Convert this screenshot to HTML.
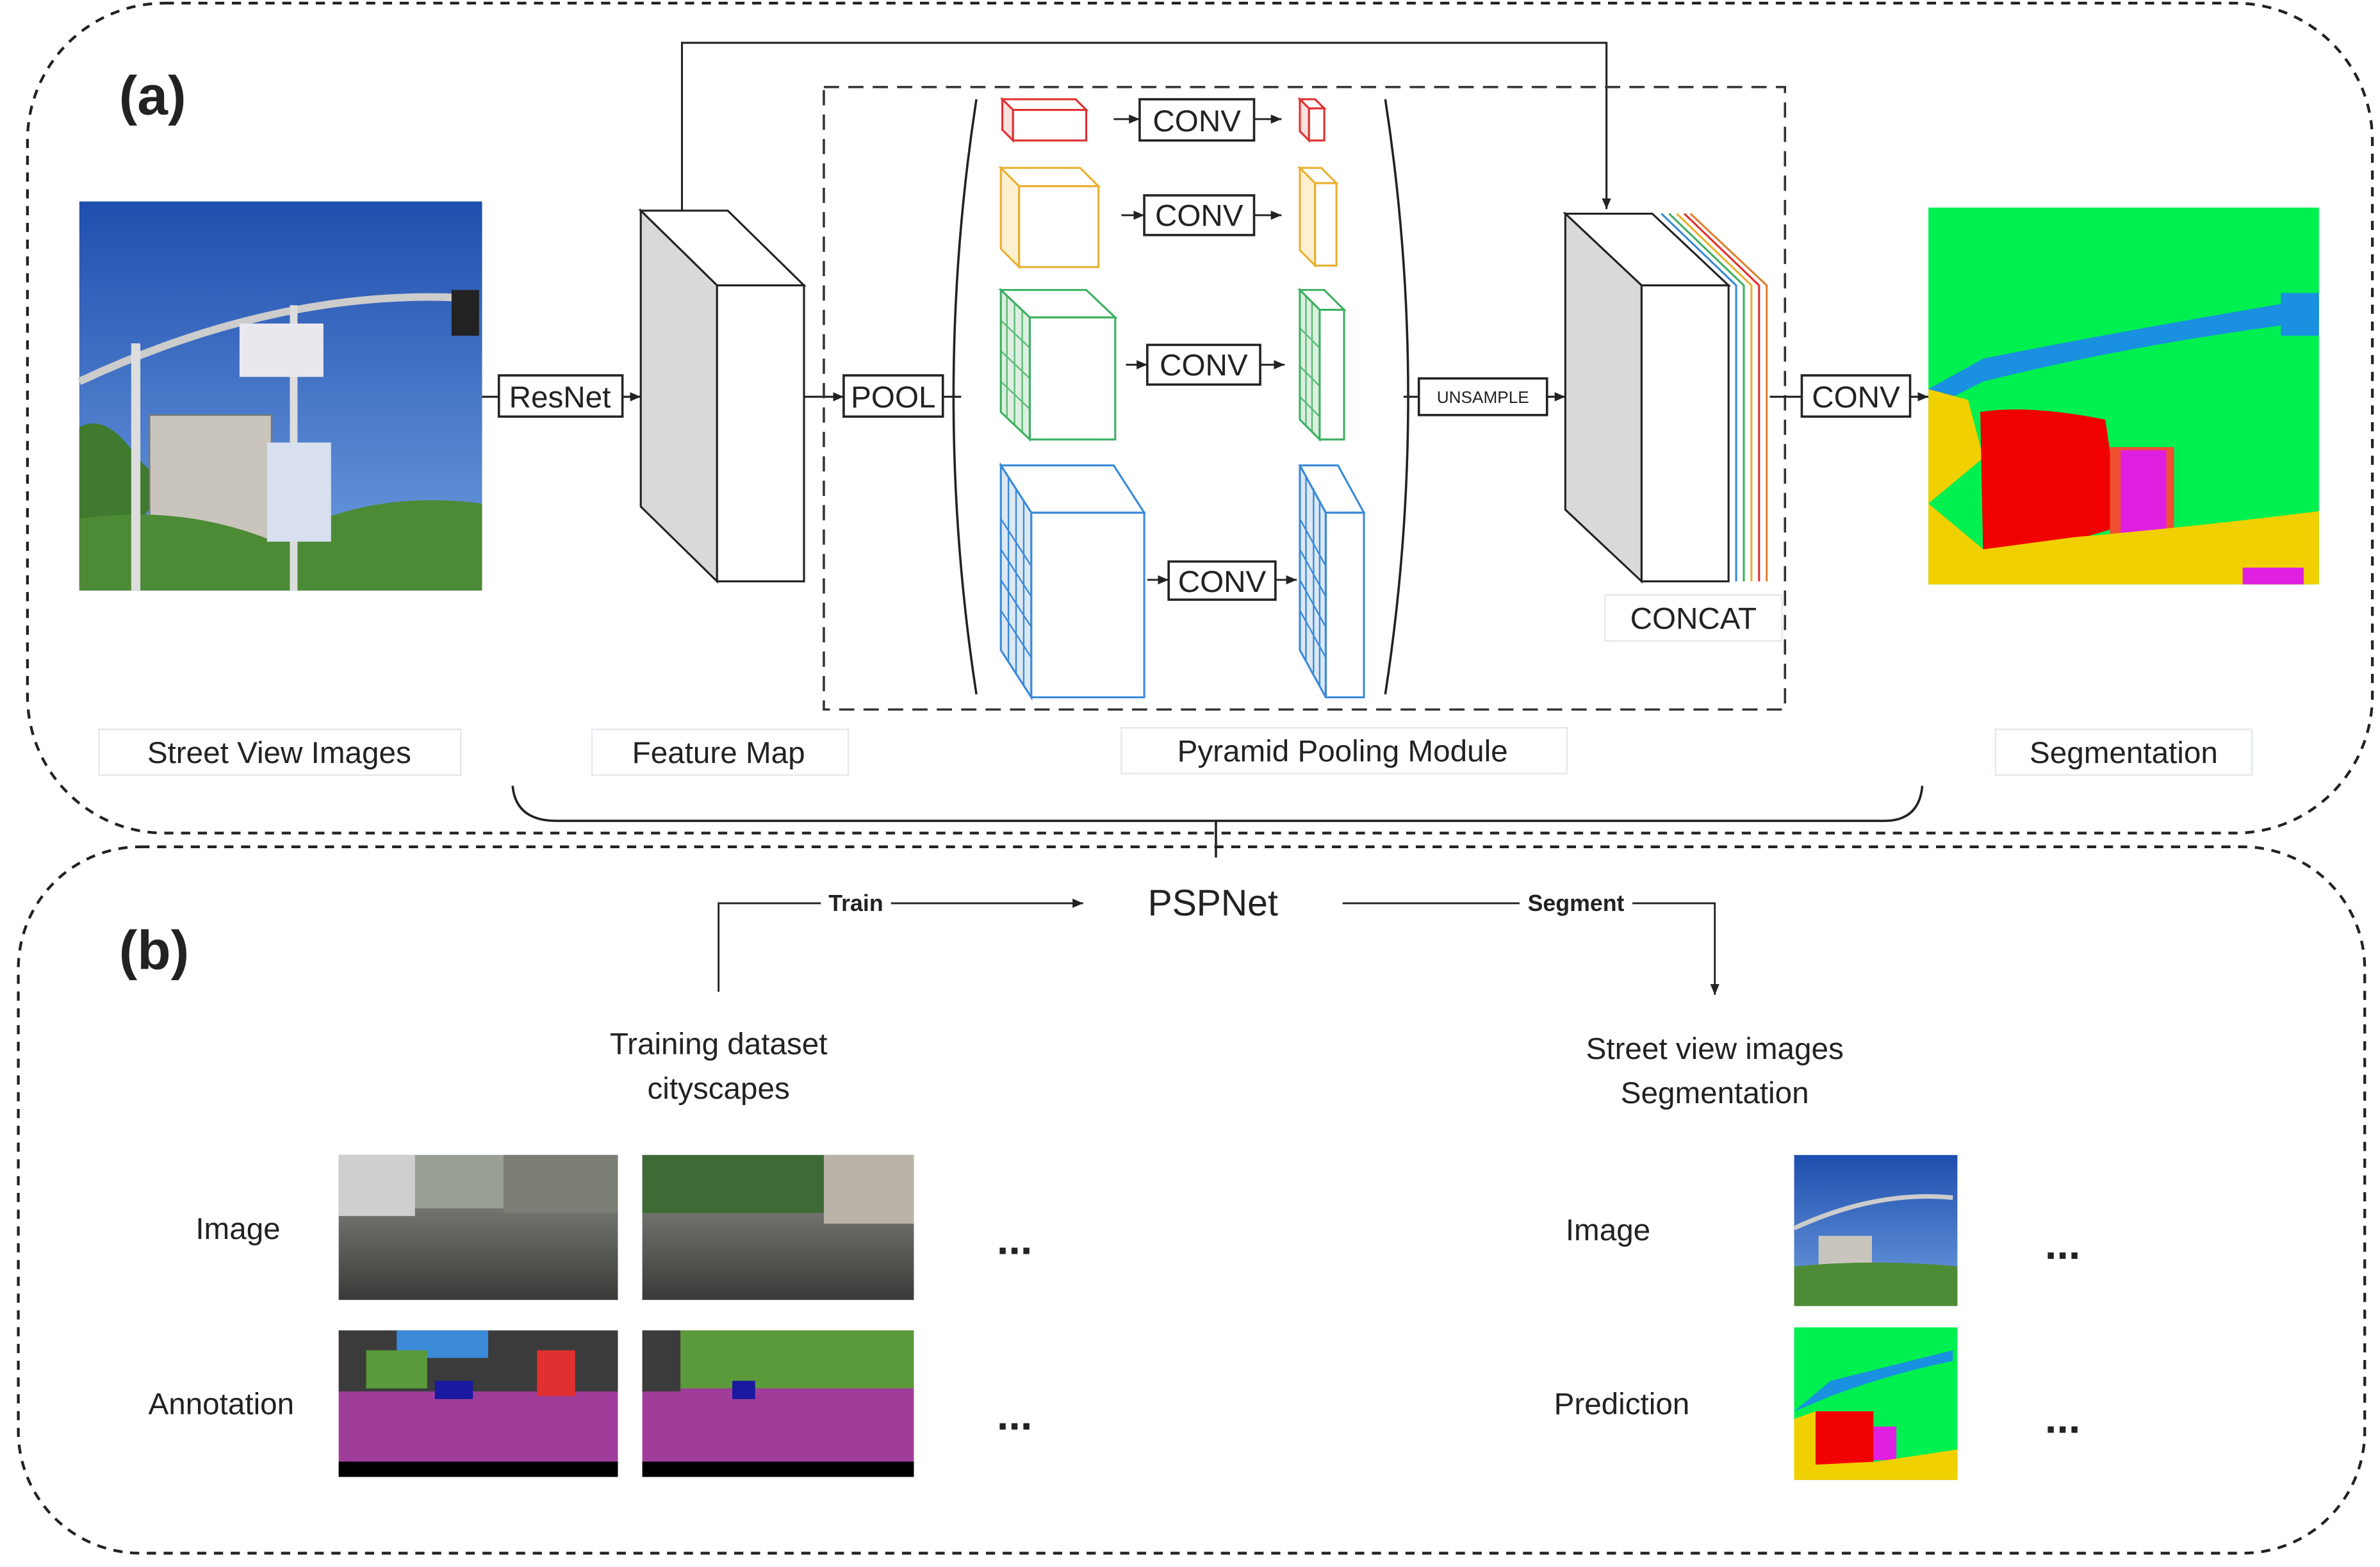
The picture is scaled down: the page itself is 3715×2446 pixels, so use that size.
<!DOCTYPE html>
<html><head><meta charset="utf-8"><style>
html,body{margin:0;padding:0;background:#fff;}
svg{display:block;}
text{font-family:"Liberation Sans",sans-serif;fill:#222;}
</style></head><body>
<svg width="3715" height="2446" viewBox="0 0 1560 1027" xmlns="http://www.w3.org/2000/svg">
<defs>
<marker id="ar" markerWidth="8" markerHeight="8" refX="7" refY="4" orient="auto" markerUnits="userSpaceOnUse"><path d="M0,1 L7,4 L0,7 z" fill="#222"/></marker>
<linearGradient id="sky" x1="0" y1="0" x2="0" y2="1"><stop offset="0" stop-color="#1f4fae"/><stop offset="1" stop-color="#6f9fe0"/></linearGradient>
<linearGradient id="road" x1="0" y1="0" x2="0" y2="1"><stop offset="0" stop-color="#8a8f87"/><stop offset="0.45" stop-color="#6b6e68"/><stop offset="1" stop-color="#3a3b38"/></linearGradient>
<pattern id="grid" width="8" height="10" patternUnits="userSpaceOnUse"><path d="M0,0 H8 M0,0 V10" stroke="currentColor" stroke-width="1" fill="none"/></pattern>
</defs>
<!-- outer boxes -->
<rect x="18" y="2" width="1537" height="544" rx="90" fill="none" stroke="#222" stroke-width="1.8" stroke-dasharray="6,5"/>
<rect x="12" y="555" width="1538" height="463" rx="80" fill="none" stroke="#222" stroke-width="1.8" stroke-dasharray="6,5"/>
<text x="78" y="75" font-size="36" font-weight="bold">(a)</text>
<text x="78" y="635" font-size="36" font-weight="bold">(b)</text>

<!-- street view image -->
<rect x="52" y="132" width="264" height="255" fill="url(#sky)"/>
<path d="M52,280 Q70,270 90,300 L110,320 L52,387 Z" fill="#3f7a2e"/>
<rect x="98" y="272" width="80" height="100" fill="#c9c5bd"/>
<rect x="98" y="272" width="80" height="100" fill="none" stroke="#777"/>
<path d="M52,387 L52,340 Q120,330 180,355 Q240,320 316,330 L316,387 Z" fill="#4d8a36"/>
<path d="M52,250 Q180,190 300,195" stroke="#ccc" stroke-width="5" fill="none"/>
<rect x="86" y="225" width="6" height="162" fill="#ddd"/>
<rect x="190" y="200" width="5" height="187" fill="#ddd"/>
<rect x="157" y="212" width="55" height="35" fill="#e8e8ee"/>
<rect x="175" y="290" width="42" height="65" fill="#d8e0ef"/>
<rect x="296" y="190" width="18" height="30" fill="#222"/>

<!-- ResNet -->
<line x1="316" y1="260" x2="327" y2="260" stroke="#222" stroke-width="1.3"/>
<rect x="327" y="246" width="81" height="27" fill="#fff" stroke="#222" stroke-width="1.5"/>
<text x="367" y="267" font-size="20" text-anchor="middle">ResNet</text>
<line x1="408" y1="260" x2="420" y2="260" stroke="#222" stroke-width="1.3" marker-end="url(#ar)"/>

<!-- feature map cuboid -->
<polygon points="420,138 477,138 527,187 470,187" fill="#fff" stroke="#222" stroke-width="1.3"/>
<polygon points="420,138 470,187 470,381 420,332" fill="#d9d9d9" stroke="#222" stroke-width="1.3"/>
<rect x="470" y="187" width="57" height="194" fill="#fff" stroke="#222" stroke-width="1.3"/>
<polyline points="447,138 447,28 1053,28 1053,137" fill="none" stroke="#222" stroke-width="1.3" marker-end="url(#ar)"/>
<line x1="527" y1="260" x2="553" y2="260" stroke="#222" stroke-width="1.3" marker-end="url(#ar)"/>

<!-- PPM dashed -->
<rect x="540" y="57" width="630" height="408" fill="none" stroke="#333" stroke-width="1.5" stroke-dasharray="10,6"/>
<rect x="553" y="246" width="65" height="27" fill="#fff" stroke="#222" stroke-width="1.5"/>
<text x="585.5" y="267" font-size="20" text-anchor="middle">POOL</text>
<line x1="618" y1="260" x2="630" y2="260" stroke="#222" stroke-width="1.3"/>
<path d="M640,65 Q610,260 640,455" fill="none" stroke="#222" stroke-width="1.5"/>
<path d="M908,65 Q938,260 908,455" fill="none" stroke="#222" stroke-width="1.5"/>

<!-- red -->
<g stroke="#e03030" stroke-width="1.3" fill="#fff">
<polygon points="657,65 705,65 712,72 664,72"/><polygon points="657,65 664,72 664,92 657,85" fill="#fbe0e0"/><rect x="664" y="72" width="48" height="20"/>
<polygon points="852,65 862,65 868,71 858,71"/><polygon points="852,65 858,71 858,92 852,86" fill="#fbe0e0"/><rect x="858" y="71" width="10" height="21"/>
</g>
<!-- yellow -->
<g stroke="#e8b030" stroke-width="1.3" fill="#fff">
<polygon points="656,110 708,110 720,122 668,122"/><polygon points="656,110 668,122 668,175 656,163" fill="#fdf0d0"/><rect x="668" y="122" width="52" height="53"/>
<polygon points="852,110 866,110 876,120 862,120"/><polygon points="852,110 862,120 862,174 852,164" fill="#fdf0d0"/><rect x="862" y="120" width="14" height="54"/>
</g>
<!-- green -->
<g stroke="#3cb060" stroke-width="1.3" fill="#fff">
<polygon points="656,190 712,190 731,208 675,208"/><polygon points="656,190 675,208 675,288 656,270" fill="#ddefe0"/><rect x="675" y="208" width="56" height="80"/>
<polygon points="852,190 868,190 881,203 865,203"/><polygon points="852,190 865,203 865,288 852,275" fill="#ddefe0"/><rect x="865" y="203" width="16" height="85"/>
</g>
<g stroke="#3cb060" stroke-width="1" opacity="0.8">
<path d="M660,194 V274 M665,199 V279 M670,204 V284 M656,210 L675,228 M656,230 L675,248 M656,250 L675,268"/>
<path d="M856,194 V279 M860,198 V283 M852,215 L865,228 M852,240 L865,253 M852,260 L865,273"/>
</g>
<!-- blue -->
<g stroke="#3a8ad8" stroke-width="1.3" fill="#fff">
<polygon points="656,305 730,305 750,336 676,336"/><polygon points="656,305 676,336 676,457 656,426" fill="#dde8f5"/><rect x="676" y="336" width="74" height="121"/>
<polygon points="852,305 877,305 894,336 869,336"/><polygon points="852,305 869,336 869,457 852,426" fill="#dde8f5"/><rect x="869" y="336" width="25" height="121"/>
</g>
<g stroke="#3a8ad8" stroke-width="1">
<path d="M661,312 V433 M666,320 V441 M671,328 V449 M656,340 L676,371 M656,360 L676,391 M656,380 L676,411 M656,400 L676,431"/>
<path d="M856,312 V433 M861,320 V441 M865,328 V449 M852,340 L869,371 M852,360 L869,391 M852,380 L869,411 M852,400 L869,431"/>
</g>
<!-- CONV boxes -->
<g stroke="#222" stroke-width="1.5" fill="#fff">
<rect x="747" y="65" width="75" height="27"/><rect x="750" y="128" width="72" height="26"/><rect x="752" y="226" width="74" height="26"/><rect x="766" y="368" width="70" height="25"/>
</g>
<g font-size="20" text-anchor="middle">
<text x="784.5" y="86">CONV</text><text x="786" y="148">CONV</text><text x="789" y="246">CONV</text><text x="801" y="388">CONV</text>
</g>
<g stroke="#222" stroke-width="1.2" marker-end="url(#ar)">
<line x1="730" y1="78" x2="747" y2="78"/><line x1="822" y1="78" x2="840" y2="78"/>
<line x1="735" y1="141" x2="750" y2="141"/><line x1="822" y1="141" x2="840" y2="141"/>
<line x1="738" y1="239" x2="752" y2="239"/><line x1="826" y1="239" x2="842" y2="239"/>
<line x1="752" y1="380" x2="766" y2="380"/><line x1="836" y1="380" x2="850" y2="380"/>
</g>
<!-- unsample -->
<line x1="920" y1="260" x2="930" y2="260" stroke="#222" stroke-width="1.3"/>
<rect x="930" y="248" width="84" height="24" fill="#fff" stroke="#222" stroke-width="1.5"/>
<text x="972" y="264" font-size="11" text-anchor="middle">UNSAMPLE</text>
<line x1="1014" y1="260" x2="1026" y2="260" stroke="#222" stroke-width="1.3" marker-end="url(#ar)"/>
<!-- concat cuboid -->
<g fill="none" stroke-width="1.3">
<polyline points="1108,140 1158,187 1158,381" stroke="#e08030"/>
<polyline points="1104,140 1153,187 1153,381" stroke="#e03030"/>
<polyline points="1099,140 1148,187 1148,381" stroke="#e8b030"/>
<polyline points="1094,140 1143,187 1143,381" stroke="#3cb060"/>
<polyline points="1089,140 1138,187 1138,381" stroke="#3a8ad8"/>
</g>
<polygon points="1026,140 1083,140 1133,187 1076,187" fill="#fff" stroke="#222" stroke-width="1.3"/>
<polygon points="1026,140 1076,187 1076,381 1026,334" fill="#d9d9d9" stroke="#222" stroke-width="1.3"/>
<rect x="1076" y="187" width="57" height="194" fill="#fff" stroke="#222" stroke-width="1.3"/>
<rect x="1052" y="390" width="116" height="30" fill="none" stroke="#e4e8ee" stroke-width="1"/>
<text x="1110" y="412" font-size="20" text-anchor="middle">CONCAT</text>
<line x1="1160" y1="260" x2="1181" y2="260" stroke="#222" stroke-width="1.3"/>
<rect x="1181" y="246" width="71" height="27" fill="#fff" stroke="#222" stroke-width="1.5"/>
<text x="1216.5" y="267" font-size="20" text-anchor="middle">CONV</text>
<line x1="1252" y1="260" x2="1264" y2="260" stroke="#222" stroke-width="1.3" marker-end="url(#ar)"/>

<!-- segmentation image -->
<rect x="1264" y="136" width="256" height="247" fill="#00f050"/>
<path d="M1264,255 L1300,235 Q1400,215 1520,195 L1520,210 Q1400,225 1300,250 L1264,268 Z" fill="#1a90e0"/>
<rect x="1495" y="192" width="25" height="28" fill="#1a90e0"/>
<path d="M1264,255 L1290,262 L1300,300 L1264,330 Z" fill="#f0d000"/>
<path d="M1298,270 Q1330,265 1380,275 L1390,345 Q1340,360 1300,370 Z" fill="#f00000"/>
<rect x="1383" y="293" width="42" height="60" fill="#f05030"/>
<rect x="1390" y="295" width="30" height="55" fill="#e020e0"/>
<path d="M1264,330 L1300,360 L1360,352 Q1440,345 1520,335 L1520,383 L1264,383 Z" fill="#f0d000"/>
<rect x="1470" y="372" width="40" height="11" fill="#e020e0"/>

<!-- labels -->
<g font-size="20" text-anchor="middle">
<rect x="65" y="478" width="237" height="30" fill="none" stroke="#e4e8ee"/><text x="183" y="500">Street View Images</text>
<rect x="388" y="478" width="168" height="30" fill="none" stroke="#e4e8ee"/><text x="471" y="500">Feature Map</text>
<rect x="735" y="477" width="292" height="30" fill="none" stroke="#e4e8ee"/><text x="880" y="499">Pyramid Pooling Module</text>
<rect x="1308" y="478" width="168" height="30" fill="none" stroke="#e4e8ee"/><text x="1392" y="500">Segmentation</text>
</g>
<!-- brace -->
<path d="M336,515 Q338,538 365,538 L1235,538 Q1258,538 1260,515" fill="none" stroke="#222" stroke-width="1.5"/>
<line x1="797" y1="538" x2="797" y2="562" stroke="#222" stroke-width="1.5"/>

<!-- (b) -->
<text x="795" y="600" font-size="24" text-anchor="middle">PSPNet</text>
<polyline points="471,650 471,592 710,592" fill="none" stroke="#222" stroke-width="1.2" marker-end="url(#ar)"/>
<rect x="538" y="584" width="46" height="16" fill="#fff"/>
<text x="561" y="597" font-size="15" font-weight="bold" text-anchor="middle">Train</text>
<polyline points="880,592 1124,592 1124,652" fill="none" stroke="#222" stroke-width="1.2" marker-end="url(#ar)"/>
<rect x="996" y="584" width="74" height="16" fill="#fff"/>
<text x="1033" y="597" font-size="15" font-weight="bold" text-anchor="middle">Segment</text>
<g font-size="20" text-anchor="middle">
<text x="471" y="691">Training dataset</text><text x="471" y="720">cityscapes</text>
<text x="1124" y="694">Street view images</text><text x="1124" y="723">Segmentation</text>
<text x="156" y="812">Image</text><text x="145" y="927">Annotation</text>
<text x="1054" y="813">Image</text><text x="1063" y="927">Prediction</text>
</g>
<g font-size="28" font-weight="bold" text-anchor="middle">
<text x="665" y="822">...</text><text x="665" y="937">...</text>
<text x="1352" y="825">...</text><text x="1352" y="939">...</text>
</g>
<!-- cityscapes images -->
<rect x="222" y="757" width="183" height="95" fill="url(#road)"/>
<rect x="222" y="757" width="183" height="35" fill="#9a9f96"/>
<rect x="222" y="757" width="50" height="40" fill="#cfcfcf"/>
<rect x="330" y="757" width="75" height="38" fill="#7b7e74"/>
<rect x="421" y="757" width="178" height="95" fill="url(#road)"/>
<rect x="421" y="757" width="178" height="38" fill="#3e6a36"/>
<rect x="540" y="757" width="59" height="45" fill="#b9b3a8"/>
<rect x="222" y="872" width="183" height="96" fill="#a03d9a"/>
<rect x="222" y="872" width="183" height="40" fill="#3b3b3b"/>
<rect x="260" y="872" width="60" height="18" fill="#3a8ad8"/>
<rect x="240" y="885" width="40" height="25" fill="#5a9a3a"/>
<rect x="285" y="905" width="25" height="12" fill="#1a1aa0"/>
<rect x="352" y="885" width="25" height="30" fill="#e03030"/>
<rect x="222" y="958" width="183" height="10" fill="#000"/>
<rect x="421" y="872" width="178" height="96" fill="#a03d9a"/>
<rect x="421" y="872" width="178" height="38" fill="#5a9a3a"/>
<rect x="421" y="872" width="25" height="40" fill="#3b3b3b"/>
<rect x="480" y="905" width="15" height="12" fill="#1a1aa0"/>
<rect x="421" y="958" width="178" height="10" fill="#000"/>
<!-- right photos -->
<rect x="1176" y="757" width="107" height="99" fill="url(#sky)"/>
<rect x="1192" y="810" width="35" height="40" fill="#c9c5bd"/>
<path d="M1176,856 L1176,830 Q1230,825 1283,830 L1283,856 Z" fill="#4d8a36"/>
<path d="M1176,805 Q1230,780 1280,785" stroke="#ccc" stroke-width="3" fill="none"/>
<rect x="1176" y="870" width="107" height="100" fill="#00f050"/>
<path d="M1176,925 L1200,905 Q1240,895 1280,885 L1280,892 Q1240,900 1200,915 Z" fill="#1a90e0"/>
<rect x="1190" y="925" width="38" height="35" fill="#f00000"/>
<rect x="1228" y="935" width="15" height="22" fill="#e020e0"/>
<path d="M1176,930 L1190,925 L1190,960 L1230,958 L1283,950 L1283,970 L1176,970 Z" fill="#f0d000"/>
</svg>
</body></html>
